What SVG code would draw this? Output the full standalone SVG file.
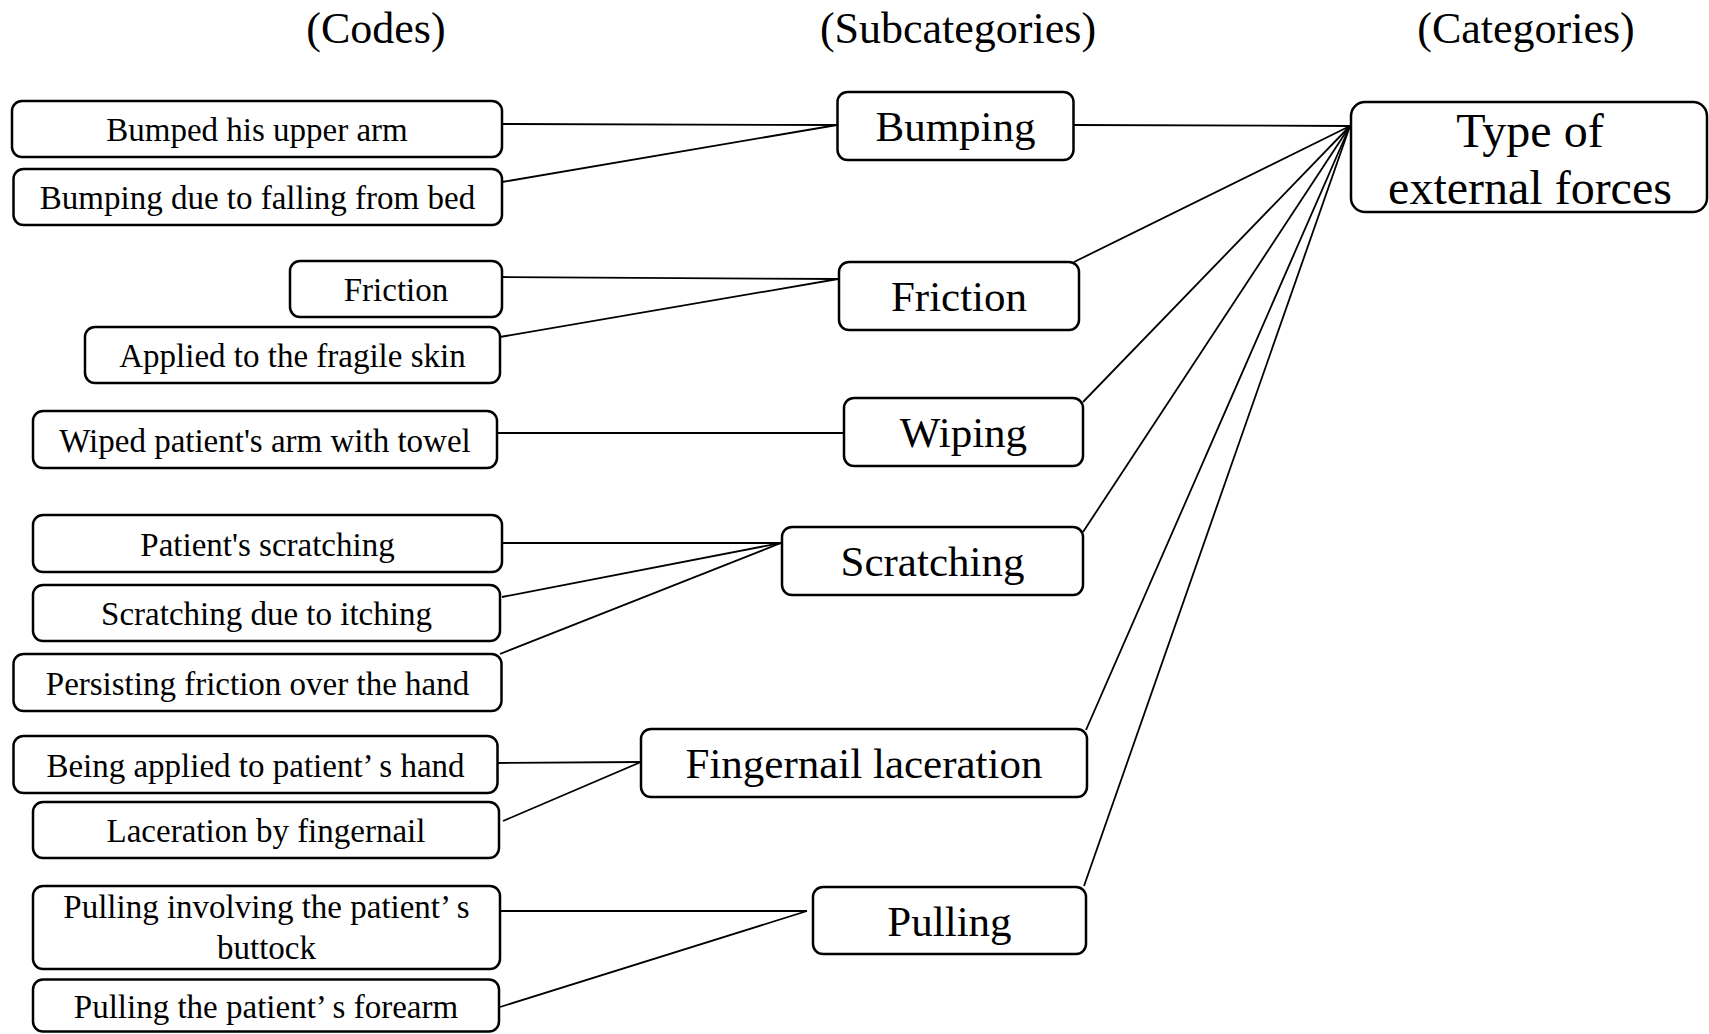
<svg xmlns="http://www.w3.org/2000/svg" width="1709" height="1034" viewBox="0 0 1709 1034">
<style>
.box{fill:#fff;stroke:#000;stroke-width:2.5}
.ln{stroke:#000;stroke-width:1.8;fill:none}
text{font-family:"Liberation Serif","Times New Roman",serif;fill:#000;text-anchor:middle}
.hd{font-size:44px}
.cd{font-size:33px}
.sc{font-size:43px}
.ct{font-size:48px}
</style>
<rect width="1709" height="1034" fill="#fff"/>
<g id="headers">
<text class="hd" x="376" y="43">(Codes)</text>
<text class="hd" x="958" y="43">(Subcategories)</text>
<text class="hd" x="1526" y="43">(Categories)</text>
</g>
<g id="connectors">
<line class="ln" x1="502" y1="124" x2="837" y2="125"/>
<line class="ln" x1="502" y1="182" x2="837" y2="125"/>
<line class="ln" x1="1073" y1="125" x2="1350" y2="126"/>
<line class="ln" x1="502" y1="277" x2="838" y2="279"/>
<line class="ln" x1="500" y1="337" x2="838" y2="279"/>
<line class="ln" x1="1074" y1="262" x2="1350" y2="126"/>
<line class="ln" x1="497" y1="433" x2="845" y2="433"/>
<line class="ln" x1="1083" y1="402" x2="1350" y2="126"/>
<line class="ln" x1="502" y1="543" x2="781" y2="543"/>
<line class="ln" x1="502" y1="597" x2="781" y2="543"/>
<line class="ln" x1="500" y1="654" x2="781" y2="543"/>
<line class="ln" x1="1083" y1="532" x2="1350" y2="126"/>
<line class="ln" x1="497" y1="763" x2="641" y2="762"/>
<line class="ln" x1="503" y1="821" x2="641" y2="762"/>
<line class="ln" x1="1086" y1="730" x2="1350" y2="126"/>
<line class="ln" x1="500" y1="911" x2="807" y2="911"/>
<line class="ln" x1="500" y1="1007" x2="807" y2="911"/>
<line class="ln" x1="1084" y1="886" x2="1350" y2="126"/>
</g>
<g id="code-bumped"><rect class="box" x="12" y="101" width="490" height="56" rx="10"/><text class="cd" x="257" y="141">Bumped his upper arm</text></g>
<g id="code-bumping-bed"><rect class="box" x="13.5" y="169" width="488.5" height="56" rx="10"/><text class="cd" x="257.5" y="209">Bumping due to falling from bed</text></g>
<g id="code-friction"><rect class="box" x="290" y="261" width="212" height="56" rx="10"/><text class="cd" x="396" y="301">Friction</text></g>
<g id="code-applied"><rect class="box" x="85" y="327" width="415" height="56" rx="10"/><text class="cd" x="292.5" y="367">Applied to the fragile skin</text></g>
<g id="code-wiped"><rect class="box" x="33" y="411" width="464" height="57" rx="10"/><text class="cd" x="265" y="451.5">Wiped patient's arm with towel</text></g>
<g id="code-patient-scratching"><rect class="box" x="33" y="515" width="469" height="57" rx="10"/><text class="cd" x="267.5" y="555.5">Patient's scratching</text></g>
<g id="code-itching"><rect class="box" x="33" y="585" width="467" height="56" rx="10"/><text class="cd" x="266.5" y="625">Scratching due to itching</text></g>
<g id="code-persisting"><rect class="box" x="13.5" y="654" width="488" height="57" rx="10"/><text class="cd" x="257.5" y="694.5">Persisting friction over the hand</text></g>
<g id="code-being-applied"><rect class="box" x="13.5" y="736" width="484" height="57" rx="10"/><text class="cd" x="255.5" y="776.5">Being applied to patient’ s hand</text></g>
<g id="code-laceration"><rect class="box" x="33" y="802" width="466" height="56" rx="10"/><text class="cd" x="266" y="842">Laceration by fingernail</text></g>
<g id="code-pulling-buttock"><rect class="box" x="33" y="886" width="467" height="83" rx="10"/><text class="cd" x="266.5" y="918">Pulling involving the patient’ s</text><text class="cd" x="266.5" y="959">buttock</text></g>
<g id="code-pulling-forearm"><rect class="box" x="33" y="979.5" width="466" height="52" rx="10"/><text class="cd" x="266" y="1018">Pulling the patient’ s forearm</text></g>
<g id="sub-bumping"><rect class="box" x="837.5" y="92" width="236" height="68" rx="10"/><text class="sc" x="955.5" y="141">Bumping</text></g>
<g id="sub-friction"><rect class="box" x="839" y="262" width="240" height="68" rx="10"/><text class="sc" x="959" y="311">Friction</text></g>
<g id="sub-wiping"><rect class="box" x="844" y="398" width="239" height="68" rx="10"/><text class="sc" x="963.5" y="447">Wiping</text></g>
<g id="sub-scratching"><rect class="box" x="782" y="527" width="301" height="68" rx="10"/><text class="sc" x="932.5" y="576">Scratching</text></g>
<g id="sub-fingernail"><rect class="box" x="641" y="729" width="446" height="68" rx="10"/><text class="sc" x="864" y="778">Fingernail laceration</text></g>
<g id="sub-pulling"><rect class="box" x="813" y="887" width="273" height="67" rx="10"/><text class="sc" x="949.5" y="935.5">Pulling</text></g>
<g id="cat-type"><rect class="box" x="1351" y="102" width="356" height="110" rx="14"/><text class="ct" x="1530" y="147">Type of</text><text class="ct" x="1530" y="204">external forces</text></g>
</svg>
